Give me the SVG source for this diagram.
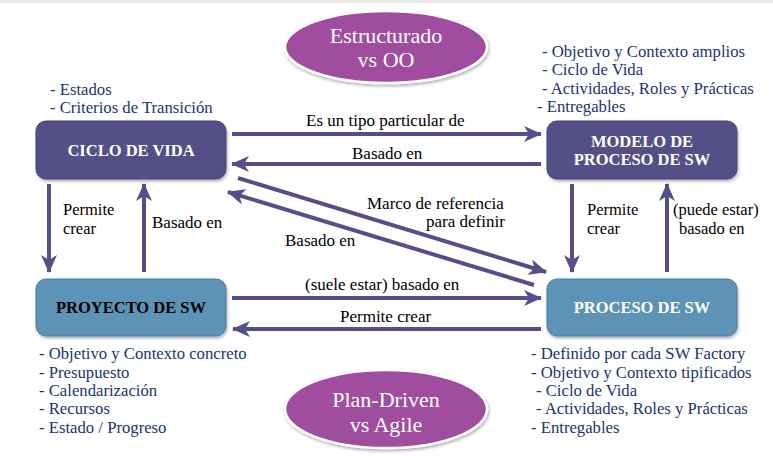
<svg xmlns="http://www.w3.org/2000/svg" width="773" height="469" viewBox="0 0 773 469" font-family="Liberation Serif, serif">
<defs>
<marker id="ah" markerUnits="userSpaceOnUse" markerWidth="20" markerHeight="16" refX="17" refY="8" orient="auto">
<path d="M0,0 L18,8 L0,16 L5,8 z" fill="#535089"/>
</marker>
<filter id="sh" x="-10%" y="-10%" width="120%" height="130%">
<feDropShadow dx="1" dy="2" stdDeviation="1.5" flood-color="#000" flood-opacity="0.3"/>
</filter>
<style>
.lbl{font-size:17px;fill:#000}
.lbs{font-size:16.5px;fill:#000}
.note{font-size:16.7px;fill:#1c3470}
.bt{font-size:16.5px;font-weight:bold;text-anchor:middle}
.et{font-size:22px;fill:#fff;text-anchor:middle}
.dark{fill:#545087;stroke:#46437a;stroke-width:1}
.blue{fill:#5d93b6;stroke:#4a7c9c;stroke-width:1}
.ell{fill:#a04d9f;stroke:#fff;stroke-width:2.5}
.c{stroke:#535089;stroke-width:4;fill:none;marker-end:url(#ah)}
</style>
</defs>
<rect x="0" y="0" width="773" height="469" fill="#fff"/>
<rect x="0" y="0" width="773" height="3" fill="#ebe8e6"/>

<g id="connectors">
<line class="c" x1="232" y1="134" x2="541" y2="134"/>
<line class="c" x1="541" y1="164" x2="232" y2="164"/>
<line class="c" x1="238" y1="178" x2="546" y2="272"/>
<line class="c" x1="534" y1="285" x2="228" y2="192"/>
<line class="c" x1="232" y1="298" x2="541" y2="298"/>
<line class="c" x1="541" y1="329" x2="233" y2="329"/>
<line class="c" x1="49" y1="184" x2="49" y2="272"/>
<line class="c" x1="144" y1="272" x2="144" y2="184"/>
<line class="c" x1="572" y1="184" x2="572" y2="272"/>
<line class="c" x1="667" y1="272" x2="667" y2="184"/>
<text class="lbl" x="306" y="126">Es un tipo particular de</text>
<text class="lbl" x="352" y="159">Basado en</text>
<text class="lbl" x="367" y="209">Marco de referencia</text>
<text class="lbl" x="426" y="227">para definir</text>
<text class="lbl" x="285" y="246">Basado en</text>
<text class="lbl" x="305" y="290">(suele estar) basado en</text>
<text class="lbl" x="340" y="322">Permite crear</text>
<text class="lbs" x="63" y="214.5">Permite</text>
<text class="lbs" x="63" y="233.5">crear</text>
<text class="lbl" x="152" y="228">Basado en</text>
<text class="lbs" x="587" y="214.5">Permite</text>
<text class="lbs" x="587" y="233.5">crear</text>
<text class="lbs" x="673" y="214.5">(puede estar)</text>
<text class="lbs" x="679" y="233.5">basado en</text>
</g>

<g id="ellipse-estructurado">
<ellipse class="ell" cx="386" cy="47" rx="101" ry="36" filter="url(#sh)"/>
<text class="et" x="386" y="43">Estructurado</text>
<text class="et" x="386" y="67">vs OO</text>
</g>

<g id="ellipse-plan">
<ellipse class="ell" cx="386" cy="409" rx="101" ry="39" filter="url(#sh)"/>
<text class="et" x="386" y="407">Plan-Driven</text>
<text class="et" x="386" y="432">vs Agile</text>
</g>

<g id="ciclo-de-vida">
<rect class="dark" x="36" y="121" width="190" height="58" rx="10" filter="url(#sh)"/>
<text class="bt" x="131" y="156" fill="#fff">CICLO DE VIDA</text>
<text class="note" x="50" y="95">- Estados</text>
<text class="note" x="50" y="113">- Criterios de Transición</text>
</g>

<g id="modelo-de-proceso">
<rect class="dark" x="547" y="121" width="190" height="58" rx="10" filter="url(#sh)"/>
<text class="bt" x="642" y="147" fill="#fff">MODELO DE</text>
<text class="bt" x="642" y="165" fill="#fff">PROCESO DE SW</text>
<text class="note" x="542" y="57">- Objetivo y Contexto amplios</text>
<text class="note" x="542" y="75">- Ciclo de Vida</text>
<text class="note" x="542" y="94">- Actividades, Roles y Prácticas</text>
<text class="note" x="537" y="112">- Entregables</text>
</g>

<g id="proyecto-de-sw">
<rect class="blue" x="36" y="279" width="190" height="57" rx="10" filter="url(#sh)"/>
<text class="bt" x="131" y="313" fill="#000">PROYECTO DE SW</text>
<text class="note" x="39" y="359">- Objetivo y Contexto concreto</text>
<text class="note" x="39" y="378">- Presupuesto</text>
<text class="note" x="39" y="396">- Calendarización</text>
<text class="note" x="39" y="414">- Recursos</text>
<text class="note" x="39" y="433">- Estado / Progreso</text>
</g>

<g id="proceso-de-sw">
<rect class="blue" x="547" y="279" width="190" height="57" rx="10" filter="url(#sh)"/>
<text class="bt" x="642" y="313" fill="#fff">PROCESO DE SW</text>
<text class="note" x="531" y="359">- Definido por cada SW Factory</text>
<text class="note" x="531" y="378">- Objetivo y Contexto tipificados</text>
<text class="note" x="536" y="396">- Ciclo de Vida</text>
<text class="note" x="536" y="414">- Actividades, Roles y Prácticas</text>
<text class="note" x="531" y="433">- Entregables</text>
</g>
</svg>
